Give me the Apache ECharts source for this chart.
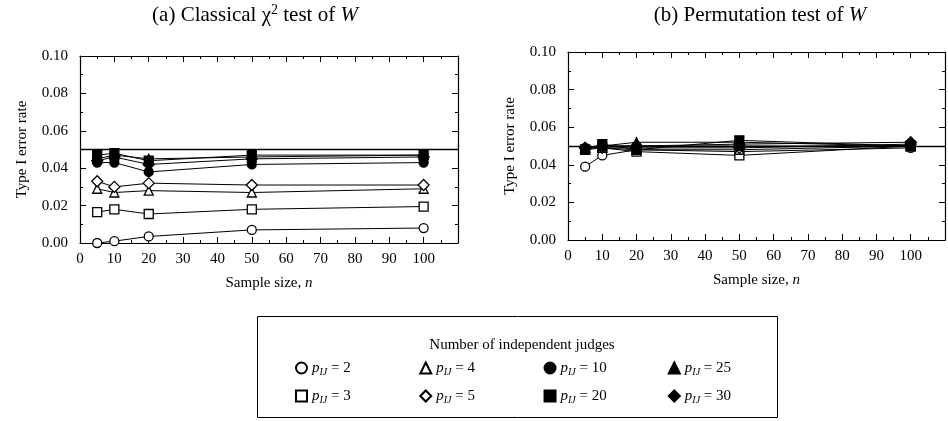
<!DOCTYPE html>
<html>
<head>
<meta charset="utf-8">
<script src="https://cdn.jsdelivr.net/npm/echarts@6/dist/echarts.min.js"></script>
<style>
html, body { margin: 0; padding: 0; background: #fff; }
#main { width: 948px; height: 421px; }
</style>
</head>
<body>
<div id="main"></div>
<script>
// sample sizes and number of judges
var sampleSizes = [5, 10, 20, 50, 100];
var judges = ['2', '3', '4', '5', '10', '20', '25', '30'];
var xTicks = [0, 10, 20, 30, 40, 50, 60, 70, 80, 90, 100];

// (a) classical chi-square test, one row per judges value
var classicalP2 = [0.000, 0.001, 0.0035, 0.007, 0.008];
var classicalP3 = [0.0165, 0.018, 0.0155, 0.018, 0.0195];
var classicalP4 = [0.029, 0.027, 0.028, 0.027, 0.029];
var classicalP5 = [0.033, 0.030, 0.032, 0.031, 0.031];
var classicalP10 = [0.043, 0.043, 0.038, 0.042, 0.043];
var classicalP20 = [0.047, 0.048, 0.044, 0.047, 0.047];
var classicalP25 = [0.045, 0.047, 0.045, 0.046, 0.047];
var classicalP30 = [0.044, 0.046, 0.042, 0.045, 0.046];

// (b) permutation test
var permP2 = [0.039, 0.045, 0.048, 0.047, 0.049];
var permP3 = [0.048, 0.049, 0.047, 0.045, 0.050];
var permP4 = [0.049, 0.049, 0.048, 0.048, 0.050];
var permP5 = [0.049, 0.049, 0.049, 0.049, 0.051];
var permP10 = [0.049, 0.050, 0.050, 0.050, 0.050];
var permP20 = [0.048, 0.051, 0.048, 0.053, 0.050];
var permP25 = [0.049, 0.050, 0.052, 0.052, 0.050];
var permP30 = [0.049, 0.050, 0.050, 0.051, 0.052];

var nominalRate = 0.05;

var classical = [classicalP2, classicalP3, classicalP4, classicalP5, classicalP10, classicalP20, classicalP25, classicalP30];
var permutation = [permP2, permP3, permP4, permP5, permP10, permP20, permP25, permP30];

var symbolOf = {'2': 'circle', '3': 'rect', '4': 'triangle', '5': 'diamond', '10': 'circle', '20': 'rect', '25': 'triangle', '30': 'diamond'};
var filled = {'10': true, '20': true, '25': true, '30': true};
var serif = '"Liberation Serif", "DejaVu Serif", serif';

var dom = document.getElementById('main');
var myChart = echarts.init(dom);

function makeSeries(gi, rates) {
    var out = [];
    judges.forEach(function (j, k) {
        var s = {
            name: j,
            type: 'line',
            xAxisIndex: gi * 2,
            yAxisIndex: gi * 2,
            data: sampleSizes.map(function (n, i) { return [n, rates[k][i]]; }),
            symbol: symbolOf[j],
            symbolSize: symbolOf[j] === 'diamond' ? 11 : 9,
            z: filled[j] ? 3 : 2,
            lineStyle: { color: '#000', width: 1 },
            itemStyle: {
                color: filled[j] ? '#000' : '#fff',
                borderColor: '#000',
                borderWidth: 1.3
            },
            emphasis: { disabled: true },
            animation: false
        };
        if (k === 0) {
            s.markLine = {
                silent: true,
                symbol: 'none',
                label: { show: false },
                lineStyle: { color: '#000', type: 'solid', width: 1.3 },
                data: [{ yAxis: nominalRate }]
            };
        }
        out.push(s);
    });
    return out;
}

function xAxes(gi) {
    var base = {
        gridIndex: gi,
        type: 'value',
        min: 0,
        max: 110,
        interval: 10,
        splitLine: { show: false },
        axisLine: { onZero: false, lineStyle: { color: '#000', width: 1.2 } },
        axisTick: { inside: true, length: 6, lineStyle: { color: '#000' } },
        minorTick: { show: true, splitNumber: 2, length: 3, lineStyle: { color: '#000' } }
    };
    var bottom = Object.assign({}, base, {
        position: 'bottom',
        axisLabel: {
            color: '#000', fontFamily: serif, fontSize: 15, margin: 9,
            formatter: function (v) { return xTicks.indexOf(v) >= 0 ? String(v) : ''; }
        },
        name: '{t|Sample size, }{i|n}',
        nameLocation: 'middle',
        nameGap: 33,
        nameTextStyle: {
            rich: {
                t: { fontFamily: serif, fontSize: 15, color: '#000' },
                i: { fontFamily: serif, fontSize: 15, color: '#000', fontStyle: 'italic' }
            }
        }
    });
    var top = Object.assign({}, base, { position: 'top', axisLabel: { show: false } });
    return [bottom, top];
}

function yAxes(gi) {
    var base = {
        gridIndex: gi,
        type: 'value',
        min: 0,
        max: 0.1,
        interval: 0.02,
        splitLine: { show: false },
        axisLine: { show: true, onZero: false, lineStyle: { color: '#000', width: 1.2 } },
        axisTick: { show: true, inside: true, length: 6, lineStyle: { color: '#000' } },
        minorTick: { show: true, splitNumber: 2, length: 3, lineStyle: { color: '#000' } }
    };
    var left = Object.assign({}, base, {
        position: 'left',
        axisLabel: {
            color: '#000', fontFamily: serif, fontSize: 15, margin: 12,
            formatter: function (v) { return v.toFixed(2); }
        },
        name: 'Type I error rate',
        nameLocation: 'middle',
        nameGap: 50,
        nameTextStyle: { fontFamily: serif, fontSize: 15, color: '#000' }
    });
    var right = Object.assign({}, base, { position: 'right', axisLabel: { show: false } });
    return [left, right];
}

var titleRich = {
    n: { fontFamily: serif, fontSize: 21, fontWeight: 'normal', color: '#000', lineHeight: 24 },
    i: { fontFamily: serif, fontSize: 21, fontWeight: 'normal', color: '#000', fontStyle: 'italic', lineHeight: 24 },
    sup: { fontFamily: serif, fontSize: 14, fontWeight: 'normal', color: '#000', verticalAlign: 'top', lineHeight: 22 }
};

var legendRich = {
    i: { fontFamily: serif, fontSize: 15, color: '#000', fontStyle: 'italic', lineHeight: 18, verticalAlign: 'middle' },
    s: { fontFamily: serif, fontSize: 10, color: '#000', fontStyle: 'italic', lineHeight: 18, verticalAlign: 'bottom', padding: [7, 0, 0, 0] },
    n: { fontFamily: serif, fontSize: 15, color: '#000', lineHeight: 18, verticalAlign: 'middle', width: 92, align: 'left' }
};

function legendRow(names, top) {
    return {
        left: 290,
        top: top,
        orient: 'horizontal',
        itemWidth: 11,
        itemHeight: 11,
        itemGap: 0,
        selectedMode: false,
        data: names.map(function (n) { return { name: n, icon: symbolOf[n] }; }),
        formatter: function (name) { return '{i|p}{s|IJ}{n| = ' + name + '}'; },
        textStyle: { rich: legendRich }
    };
}

option = {
    backgroundColor: '#fff',
    animation: false,
    title: [
        { text: '{n|(a) Classical }{n|χ}{sup|2}{n| test of }{i|W}', left: 255, top: 3, padding: 0, textAlign: 'center', textStyle: { fontWeight: 'normal', rich: titleRich } },
        { text: '{n|(b) Permutation test of }{i|W}', left: 760, top: 3, padding: 0, textAlign: 'center', textStyle: { fontWeight: 'normal', rich: titleRich } },
        { text: 'Number of independent judges', left: 517, top: 333, textAlign: 'center',
          textStyle: { fontFamily: serif, fontSize: 15, fontWeight: 'normal', color: '#000' } }
    ],
    graphic: [
        { type: 'rect', shape: { x: 257.5, y: 316.5, width: 520, height: 101 },
          style: { fill: 'none', stroke: '#000', lineWidth: 1 }, silent: true }
    ],
    legend: [
        legendRow(['2', '4', '10', '25'], 355),
        legendRow(['3', '5', '20', '30'], 383)
    ],
    grid: [
        { left: 80, top: 56, width: 378, height: 187 },
        { left: 568, top: 52, width: 378, height: 188 }
    ],
    xAxis: xAxes(0).concat(xAxes(1)),
    yAxis: yAxes(0).concat(yAxes(1)),
    series: makeSeries(0, classical).concat(makeSeries(1, permutation))
};

if (option && typeof option === 'object') {
    myChart.setOption(option, true);
}
</script>
</body>
</html>
